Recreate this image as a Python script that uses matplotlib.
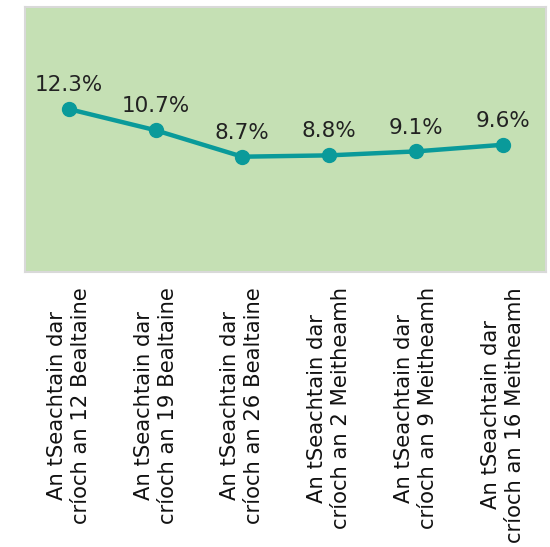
import matplotlib.pyplot as plt

weeks = [
    "An tSeachtain dar\ncríoch an 12 Bealtaine",
    "An tSeachtain dar\ncríoch an 19 Bealtaine",
    "An tSeachtain dar\ncríoch an 26 Bealtaine",
    "An tSeachtain dar\ncríoch an 2 Meitheamh",
    "An tSeachtain dar\ncríoch an 9 Meitheamh",
    "An tSeachtain dar\ncríoch an 16 Meitheamh",
]
rates = [12.3, 10.7, 8.7, 8.8, 9.1, 9.6]

line_col = "#0a9a9a"
bg_col = "#c5e0b4"

fig = plt.figure(figsize=(5.5, 5.47), dpi=100)
ax = fig.add_axes([0.046, 0.503, 0.947, 0.484])
ax.set_facecolor(bg_col)

x = list(range(len(rates)))
ax.plot(x, rates, color=line_col, lw=3.2, marker="o", ms=10, solid_capstyle="round")

for xi, v in zip(x, rates):
    ax.annotate(f"{v}%", (xi, v), xytext=(0, 10), textcoords="offset points",
                ha="center", va="bottom", fontsize=15.5, color="#222222")

ax.set_xlim(-0.5, len(rates) - 0.5)
ax.set_ylim(0, 20)
ax.set_yticks([])
ax.set_xticks(x)
ax.set_xticklabels(weeks, rotation=90, fontsize=15.2, color="#111111",
                   multialignment="center", linespacing=1.25)
ax.tick_params(axis="x", length=0, pad=11)

for s in ax.spines.values():
    s.set_color("#d9d9d9")
    s.set_linewidth(1.5)

fig.savefig("out.png", dpi=100)
